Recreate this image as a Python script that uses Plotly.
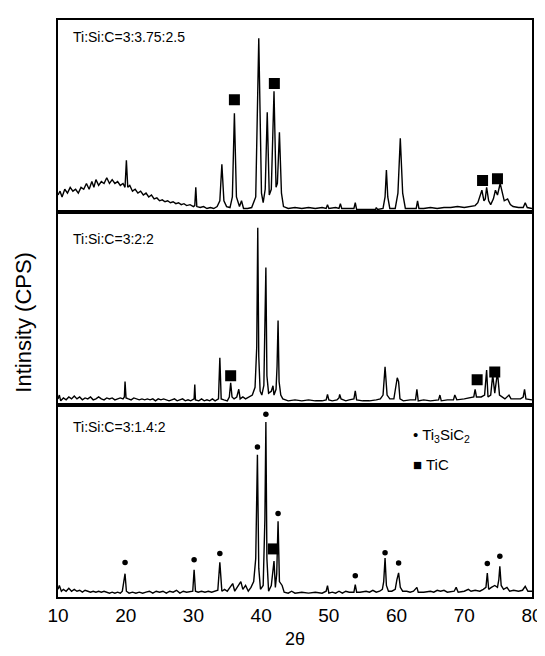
import plotly.graph_objects as go
from plotly.subplots import make_subplots

# ---------------- data ----------------
panel_labels = ["Ti:Si:C=3:3.75:2.5", "Ti:Si:C=3:2:2", "Ti:Si:C=3:1.4:2"]
x_tick_vals = [10, 20, 30, 40, 50, 60, 70, 80]
x_title = "2θ"
y_title = "Intinsity (CPS)"
legend_ti3sic2 = "Ti<sub>3</sub>SiC<sub>2</sub>"
legend_tic = "TiC"

# pattern for Ti:Si:C = 3:3.75:2.5 (2θ, relative intensity)
pattern_a = [
    (10.0, 9), (10.3, 11), (10.6, 8), (11.0, 12), (11.4, 10), (11.8, 13), (12.2, 11),
    (12.6, 12), (13.0, 10), (13.4, 13), (13.8, 12), (14.2, 15), (14.6, 12), (15.0, 16),
    (15.3, 13), (15.6, 17), (16.0, 14), (16.4, 16), (16.8, 15), (17.2, 18), (17.6, 15),
    (18.0, 17), (18.4, 15), (18.8, 16), (19.2, 14), (19.6, 15), (19.9, 13), (20.1, 27),
    (20.3, 13), (20.6, 14), (21.0, 11), (21.4, 12), (21.8, 10), (22.2, 11), (22.6, 9),
    (23.0, 10), (23.4, 8), (23.8, 9), (24.2, 7), (24.6, 7.5), (25.0, 6), (25.4, 6.5),
    (25.8, 5.5), (26.2, 6), (26.6, 5), (27.0, 5.5), (27.4, 4.5), (27.8, 5), (28.2, 4),
    (28.6, 4.5), (29.0, 3.5), (29.5, 4), (30.0, 3), (30.2, 3.5), (30.35, 13), (30.5, 3),
    (31.0, 2.5), (31.5, 3), (32.0, 2), (32.5, 2.5), (33.0, 2), (33.5, 3), (33.9, 6),
    (34.2, 25), (34.5, 6), (34.9, 3), (35.4, 2.5), (35.75, 8), (36.05, 51.5), (36.35, 8),
    (36.8, 3), (37.1, 6), (37.4, 2), (38.0, 2), (38.6, 2.5), (39.2, 8), (39.65, 90.5),
    (40.05, 10), (40.3, 5), (40.6, 12), (40.9, 52), (41.2, 9), (41.5, 12), (41.9, 63),
    (42.2, 13), (42.4, 15), (42.7, 41.6), (43.0, 10), (43.3, 3), (44.0, 2), (45.0, 2.5),
    (46.0, 2), (47.0, 2.5), (48.0, 2), (49.0, 2.5), (49.6, 2), (49.8, 4), (50.0, 2),
    (51.0, 2.5), (51.5, 2), (51.7, 4.5), (51.9, 2), (53.0, 2), (53.7, 2), (53.9, 5),
    (54.1, 1.5), (55.0, 1.5), (56.0, 1.5), (56.9, 1.5), (57.0, 2.5), (57.2, 1.5),
    (58.0, 2), (58.3, 8), (58.5, 22), (58.7, 8), (59.0, 2), (59.8, 2), (60.2, 10),
    (60.55, 38.5), (60.9, 10), (61.3, 2), (62.0, 2), (62.9, 2), (63.1, 6), (63.3, 2),
    (64.0, 2), (65.0, 2.5), (66.0, 2), (67.0, 2.5), (68.0, 2.5), (69.0, 3), (70.0, 2.5),
    (71.0, 3), (71.6, 3.5), (72.0, 5), (72.3, 8), (72.6, 11.5), (72.9, 6), (73.1, 7),
    (73.3, 13), (73.6, 6), (73.9, 4), (74.3, 7), (74.6, 11.5), (74.9, 9), (75.3, 15),
    (75.6, 10), (75.9, 6), (76.4, 7), (76.8, 4), (77.2, 3), (78.0, 2.5), (78.7, 2.5),
    (79.0, 5), (79.3, 2.5), (80.0, 2),
]
tic_a = [(36.05, 58.5), (41.95, 67), (72.7, 16.5), (74.9, 17.5)]

# pattern for Ti:Si:C = 3:2:2
pattern_b = [
    (10.0, 3), (10.2, 5), (10.4, 2), (10.8, 3.5), (11.2, 2.5), (11.6, 4), (12.0, 3),
    (12.4, 4.5), (12.8, 3), (13.2, 4), (13.6, 2.5), (14.0, 3.5), (14.4, 3), (14.8, 4),
    (15.2, 2.5), (15.6, 3), (16.0, 4), (16.4, 3), (16.8, 2.5), (17.2, 3.5), (17.6, 3),
    (18.0, 3.5), (18.4, 2.5), (18.8, 3), (19.2, 3.5), (19.6, 3), (19.8, 4), (19.9, 12),
    (20.05, 3.5), (20.4, 3), (20.8, 2.5), (21.2, 3.5), (21.6, 3), (22.0, 2.5), (22.4, 3),
    (22.8, 2.5), (23.2, 3), (23.6, 2.5), (24.0, 3), (24.4, 2), (24.8, 3), (25.2, 2.5),
    (25.6, 3), (26.0, 2.5), (26.4, 2), (26.8, 2.5), (27.2, 3), (27.6, 2), (28.0, 2.5),
    (28.4, 3), (28.8, 2), (29.2, 2.5), (29.6, 2), (30.0, 2.5), (30.1, 3), (30.2, 10.5),
    (30.3, 2.5), (30.8, 2), (31.2, 3), (31.6, 2), (32.0, 2.5), (32.4, 2), (32.8, 3),
    (33.2, 2), (33.7, 3), (33.9, 24.4), (34.1, 3), (34.5, 2.5), (35.0, 2), (35.3, 4),
    (35.5, 11.4), (35.7, 4), (36.0, 3), (36.4, 4), (36.7, 8), (36.9, 3), (37.3, 4),
    (37.7, 3), (38.2, 4), (38.7, 5), (39.1, 9), (39.35, 30), (39.5, 92), (39.65, 25),
    (39.85, 7), (40.1, 5), (40.4, 10), (40.55, 35), (40.7, 71.3), (40.85, 15), (41.1, 6),
    (41.5, 7), (41.75, 9.8), (41.9, 5), (42.2, 8), (42.35, 20), (42.5, 43.7), (42.65, 12),
    (42.9, 5), (43.2, 3), (43.6, 2.5), (44.0, 2), (45.0, 2.5), (46.0, 2), (47.0, 2.5),
    (48.0, 2), (49.0, 2), (49.6, 2.5), (49.8, 5.3), (50.0, 2.5), (50.5, 2), (51.2, 2.5),
    (51.5, 3.5), (51.6, 5.3), (51.8, 3), (52.5, 2), (53.0, 2.5), (53.7, 3), (53.9, 7.2),
    (54.1, 2.5), (55.0, 2), (56.0, 2), (57.0, 2.5), (57.6, 3), (58.0, 5), (58.3, 19.7),
    (58.6, 5), (59.0, 3), (59.6, 3), (59.9, 10), (60.1, 14), (60.3, 12), (60.5, 3),
    (61.0, 2), (62.0, 2.5), (62.8, 2.5), (63.0, 8), (63.2, 2), (64.0, 2.5), (65.0, 2),
    (66.2, 2.5), (66.4, 5), (66.6, 2), (67.5, 2.5), (68.4, 2.5), (68.6, 5), (68.9, 2.5),
    (70.0, 3), (71.0, 3.5), (71.4, 4), (71.6, 8), (71.8, 4), (72.5, 4), (73.0, 5),
    (73.3, 18), (73.5, 4), (73.9, 5), (74.2, 15.5), (74.5, 6), (74.9, 17), (75.2, 5),
    (75.6, 4), (76.0, 3), (76.6, 5), (76.9, 3), (77.5, 3), (78.3, 3), (78.7, 4),
    (78.9, 8), (79.1, 3), (80.0, 2.5),
]
tic_b = [(35.5, 15), (71.9, 13), (74.5, 17)]

# pattern for Ti:Si:C = 3:1.4:2
pattern_c = [
    (10.0, 4), (10.2, 6), (10.5, 3), (10.8, 4), (11.2, 3), (11.6, 4.5), (12.0, 3),
    (12.4, 4), (12.8, 3), (13.2, 3.5), (13.6, 2.5), (14.0, 3.5), (14.4, 3), (14.8, 2.5),
    (15.2, 3), (15.6, 2.5), (16.0, 3), (16.4, 2.5), (16.8, 3), (17.2, 2.5), (17.6, 2),
    (18.0, 2.5), (18.4, 2), (18.8, 2.5), (19.2, 2), (19.5, 3), (19.7, 8), (19.9, 12.1),
    (20.1, 3), (20.5, 2), (21.0, 2.5), (21.5, 2), (22.0, 2.5), (22.5, 2), (23.0, 2.5),
    (23.5, 3), (24.0, 2), (24.5, 3), (25.0, 2.5), (25.5, 3), (26.0, 2), (26.5, 3),
    (27.0, 2.5), (27.5, 3.5), (28.0, 2), (28.5, 3), (29.0, 2.5), (29.5, 3), (29.9, 3),
    (30.1, 14.2), (30.3, 3), (30.7, 2.5), (31.2, 3), (31.7, 2.5), (32.2, 3), (32.7, 2.5),
    (33.2, 3), (33.6, 3.5), (33.9, 18), (34.2, 3), (34.6, 4), (35.0, 3), (35.4, 5),
    (35.8, 7), (36.1, 3), (36.5, 5), (37.0, 8), (37.3, 4), (37.7, 6), (38.1, 3),
    (38.5, 5), (38.9, 8), (39.2, 20), (39.45, 74), (39.65, 15), (39.9, 4), (40.3, 6),
    (40.55, 40), (40.7, 91), (40.85, 20), (41.1, 3), (41.5, 6), (41.9, 18.7), (42.1, 5),
    (42.3, 12), (42.5, 39.4), (42.7, 8), (43.1, 6), (43.4, 2.5), (44.0, 2), (44.5, 3),
    (45.0, 2), (46.0, 2.5), (47.0, 2), (48.0, 2.5), (49.0, 2), (49.6, 3), (49.8, 5.9),
    (50.0, 2), (50.5, 2.5), (51.0, 2), (51.5, 3), (52.0, 2), (52.5, 3), (53.0, 2.5),
    (53.7, 2.5), (53.9, 6.4), (54.1, 2.5), (54.6, 2.5), (55.5, 3), (56.0, 2.5),
    (56.5, 3.5), (57.0, 2.5), (57.5, 3), (57.9, 4), (58.1, 8), (58.3, 20.3), (58.5, 6),
    (58.8, 3), (59.3, 3), (59.8, 4), (60.05, 9), (60.3, 12.5), (60.55, 5), (60.9, 3),
    (61.5, 3), (62.0, 2.5), (62.5, 3), (63.0, 5), (63.2, 2.5), (64.0, 2.5), (65.0, 3),
    (65.5, 2.5), (66.0, 3.5), (66.5, 3), (67.0, 3.5), (67.5, 2.5), (68.5, 3), (68.8, 5),
    (69.1, 2.5), (70.0, 3), (70.6, 4), (71.0, 3), (71.6, 3.5), (72.3, 3), (72.8, 4),
    (73.2, 5), (73.4, 12.5), (73.6, 4), (74.0, 5), (74.5, 6), (74.9, 5), (75.1, 9),
    (75.25, 16), (75.45, 6), (75.8, 4), (76.3, 5), (76.7, 3), (77.3, 3.5), (78.0, 3),
    (78.6, 3.5), (79.0, 5.5), (79.4, 3), (80.0, 3),
]
tic_c = [(41.8, 25)]
ti3sic2_c = [(19.9, 18), (30.1, 19.4), (33.9, 22.6), (39.45, 78), (40.7, 95), (42.5, 43.4),
             (53.9, 11), (58.3, 23), (60.3, 17.7), (73.4, 17.4), (75.25, 21.2)]

# ---------------- figure ----------------
FONT = "Liberation Sans, Arial, Helvetica, sans-serif"
fig = make_subplots(rows=3, cols=1, shared_xaxes=True, vertical_spacing=0)


def split(pairs):
    return [p[0] for p in pairs], [p[1] for p in pairs]


panels = [
    (pattern_a, tic_a, []),
    (pattern_b, tic_b, []),
    (pattern_c, tic_c, ti3sic2_c),
]
for r, (pat, tic, dots) in enumerate(panels, start=1):
    xs, ys = split(pat)
    fig.add_trace(go.Scatter(x=xs, y=ys, mode="lines",
                             line=dict(color="black", width=1.4),
                             showlegend=False, hoverinfo="skip"), row=r, col=1)
    if tic:
        tx, ty = split(tic)
        fig.add_trace(go.Scatter(x=tx, y=ty, mode="markers",
                                 marker=dict(symbol="square", size=11, color="black"),
                                 showlegend=False), row=r, col=1)
    if dots:
        dx, dy = split(dots)
        fig.add_trace(go.Scatter(x=dx, y=dy, mode="markers",
                                 marker=dict(symbol="circle", size=5.5, color="black"),
                                 showlegend=False), row=r, col=1)

for r in (1, 2, 3):
    fig.update_yaxes(range=[0, 100], showticklabels=False, ticks="", showgrid=False,
                     zeroline=False, showline=True, linecolor="black", linewidth=1.6,
                     mirror=True, row=r, col=1)
    fig.update_xaxes(range=[10, 80], showgrid=False, zeroline=False, showline=True,
                     linecolor="black", linewidth=1.6, mirror=True, ticks="",
                     row=r, col=1)
fig.update_xaxes(showticklabels=False, row=1, col=1)
fig.update_xaxes(showticklabels=False, row=2, col=1)
fig.update_xaxes(tickvals=x_tick_vals, showticklabels=True,
                 tickfont=dict(family=FONT, size=19, color="black"),
                 title=dict(text=x_title, font=dict(family=FONT, size=18, color="black"),
                            standoff=8),
                 row=3, col=1)

label_pos = [("x domain", "y domain", 0.91), ("x2 domain", "y2 domain", 0.86),
             ("x3 domain", "y3 domain", 0.885)]
for text, (xr, yr, yy) in zip(panel_labels, label_pos):
    fig.add_annotation(text=text, xref=xr, yref=yr, x=0.027, y=yy, xanchor="left",
                       yanchor="middle", showarrow=False,
                       font=dict(family=FONT, size=14, color="black"))

fig.add_annotation(text="• " + legend_ti3sic2, xref="x3 domain", yref="y3 domain",
                   x=0.744, y=0.84, xanchor="left", yanchor="middle", showarrow=False,
                   font=dict(family=FONT, size=15, color="black"))
fig.add_annotation(text="■ " + legend_tic, xref="x3 domain", yref="y3 domain",
                   x=0.744, y=0.6875, xanchor="left", yanchor="middle", showarrow=False,
                   font=dict(family=FONT, size=15, color="black"))

fig.add_annotation(text=y_title, xref="paper", yref="paper", x=-0.072, y=0.477,
                   textangle=-90, showarrow=False, xanchor="center", yanchor="middle",
                   font=dict(family=FONT, size=22, color="black"))

fig.update_layout(width=545, height=656, margin=dict(l=50, r=15, t=10, b=67),
                  plot_bgcolor="white", paper_bgcolor="white", showlegend=False)

fig.write_html("out.html")
